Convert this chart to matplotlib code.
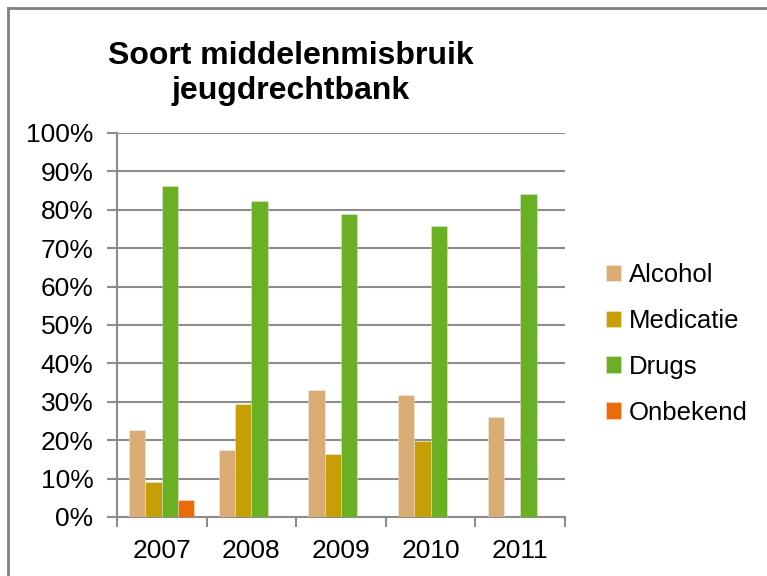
import matplotlib
matplotlib.use("Agg")
import matplotlib.pyplot as plt
from matplotlib.lines import Line2D
import numpy as np

years = ["2007", "2008", "2009", "2010", "2011"]
series_names = ["Alcohol", "Medicatie", "Drugs", "Onbekend"]
alcohol = [22.7, 17.5, 33.2, 31.9, 26.1]
medicatie = [9.1, 29.3, 16.5, 19.9, 0.0]
drugs = [86.3, 82.3, 79.0, 75.8, 84.1]
onbekend = [4.5, 0.0, 0.0, 0.0, 0.0]
colors = ["#D9AB75", "#C69F08", "#6BAF25", "#EA6A0C"]
yticks = [0, 10, 20, 30, 40, 50, 60, 70, 80, 90, 100]

plt.rcParams['font.family'] = ['Liberation Sans', 'DejaVu Sans']

W, H = 767, 576
fig = plt.figure(figsize=(W / 100, H / 100), dpi=100)
ax = fig.add_axes([117 / W, 1 - 517 / H, (565 - 117) / W, (517 - 133) / H])

x = np.arange(len(years))
bw = 0.182
data = [alcohol, medicatie, drugs, onbekend]
for i, (name, vals, c) in enumerate(zip(series_names, data, colors)):
    offs = (i - 1.5) * bw
    ax.bar(x + offs, vals, width=bw, color=c, label=name, zorder=3,
           edgecolor=(1, 1, 1, 0.35), linewidth=0.6)

ax.set_ylim(0, 100)
ax.set_xlim(-0.5, len(years) - 0.5)
ax.set_yticks(yticks)
ax.set_yticklabels([f"{v}%" for v in yticks], fontsize=19)
ax.set_xticks(x)
ax.set_xticklabels(years, fontsize=19)
ax.set_xticks(np.arange(len(years) + 1) - 0.5, minor=True)
ax.tick_params(axis='x', which='major', length=0, pad=16)
ax.tick_params(axis='x', which='minor', length=7, width=1.5, color='#8c8c8c', direction='out')
ax.tick_params(axis='y', length=7, width=1.5, color='#8c8c8c', direction='out', pad=10)
ax.grid(axis='y', color='#8c8c8c', linewidth=1.5, zorder=0)
for s in ['top', 'right']:
    ax.spines[s].set_visible(False)
for s in ['left', 'bottom']:
    ax.spines[s].set_color('#8c8c8c')
    ax.spines[s].set_linewidth(1.5)

leg = ax.legend(loc='upper left', bbox_to_anchor=(606 / W, 1 - 263 / H),
                bbox_transform=fig.transFigure, frameon=False, fontsize=18.5,
                handlelength=0.6, handleheight=0.6, handletextpad=0.3,
                labelspacing=0.85, borderpad=0, borderaxespad=0)

fig.text(291 / W, 1 - 41 / H, "Soort middelenmisbruik\njeugdrechtbank",
         ha='center', va='top', fontsize=23, fontweight='bold',
         linespacing=1.22)

# outer frame (left and top edges visible)
fig.add_artist(Line2D([8 / W, 8 / W], [0, 1 - 8 / H], transform=fig.transFigure,
                      color='#808080', linewidth=2))
fig.add_artist(Line2D([8 / W, 1], [1 - 8 / H, 1 - 8 / H], transform=fig.transFigure,
                      color='#808080', linewidth=2))

fig.savefig("out.png", dpi=100)
